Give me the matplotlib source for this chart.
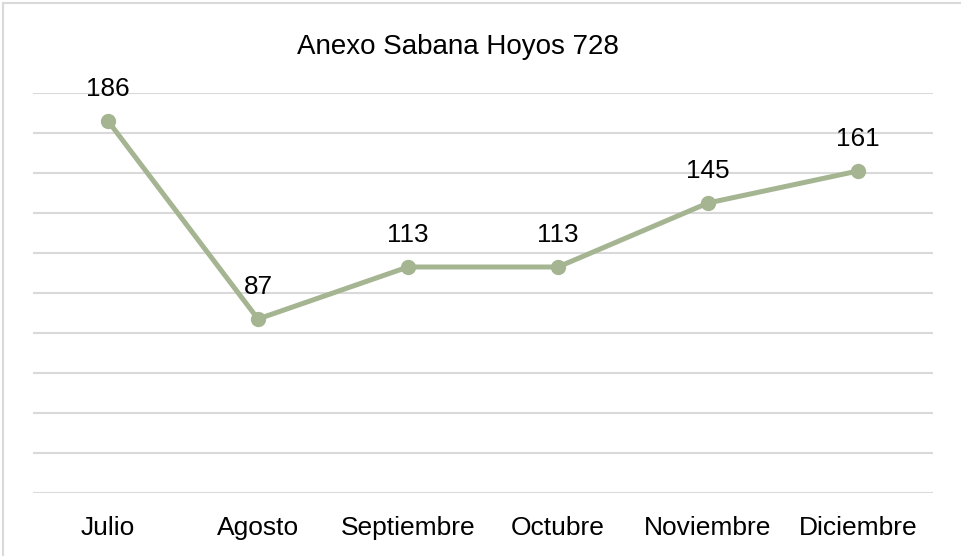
import matplotlib
matplotlib.use('Agg')
import matplotlib.pyplot as plt
from matplotlib.patches import Rectangle

plt.rcParams['font.family'] = ['Liberation Sans', 'DejaVu Sans']

months = ['Julio', 'Agosto', 'Septiembre', 'Octubre', 'Noviembre', 'Diciembre']
hoyos = [186, 87, 113, 113, 145, 161]
title = 'Anexo Sabana Hoyos 728'

line_color = '#a5b592'
grid_color = '#d9d9d9'

W, H = 961, 556
fig = plt.figure(figsize=(W / 100, H / 100), dpi=100)
ax = fig.add_axes([33 / W, 1 - 493 / H, 900 / W, 400 / H])

x = range(len(months))
ax.plot(x, hoyos, color=line_color, lw=3.6, marker='o', ms=10,
        solid_capstyle='round', zorder=3)
for xi, v in zip(x, hoyos):
    ax.annotate(str(v), (xi, v), xytext=(0, 23), textcoords='offset points',
                ha='center', va='center', fontsize=18.8, color='#000000')

ax.set_xlim(-0.5, len(months) - 0.5)
ax.set_ylim(0, 200)
ax.set_yticks(range(0, 201, 20))
ax.set_xticks(list(x))
ax.set_xticklabels(months, fontsize=19)
ax.tick_params(axis='y', left=False, labelleft=False)
ax.tick_params(axis='x', bottom=False, pad=13)
ax.grid(axis='y', color=grid_color, lw=1.5)
ax.set_axisbelow(True)
for s in ax.spines.values():
    s.set_visible(False)

fig.text(458 / W, 1 - 47 / H, title, ha='center', va='center', fontsize=20)

# outer chart border (only top and left are inside the image)
fig.patches.append(Rectangle((3 / W, -0.05), 1.1, 1 - 3 / H + 0.05,
                             transform=fig.transFigure, fill=False,
                             ec=grid_color, lw=1.5))

fig.savefig('out.png', dpi=100)
